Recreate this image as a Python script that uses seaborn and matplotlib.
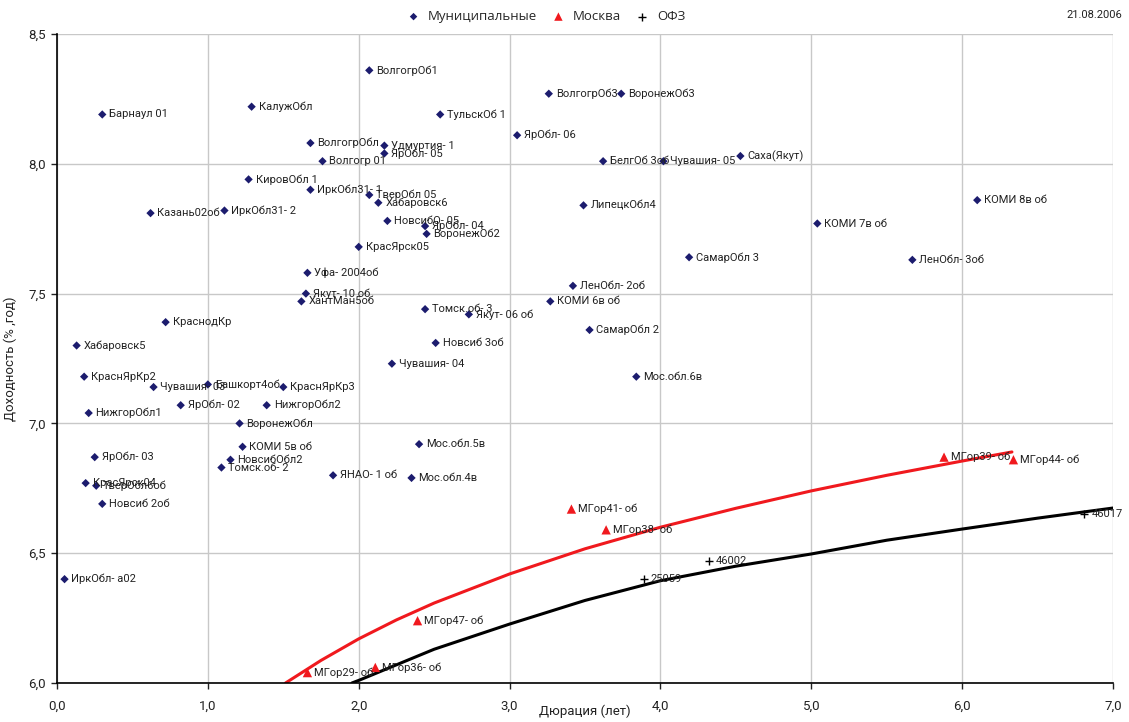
import matplotlib
matplotlib.use("Agg")
import matplotlib.pyplot as plt
import seaborn as sns
import pandas as pd
from matplotlib.ticker import FuncFormatter, MultipleLocator

# ---------------- data ----------------
muni_names = ["Барнаул 01", "КалужОбл", "ВолгогрОб1", "ВолгогрОбл", "Волгогр 01", "Удмуртия- 1",
              "ЯрОбл- 05", "ТульскОб 1", "ЯрОбл- 06", "ВолгогрОб3", "ВоронежОб3", "БелгОб 3об",
              "Чувашия- 05", "Саха(Якут)", "ЛипецкОбл4", "КОМИ 7в об", "КОМИ 8в об", "ЛенОбл- 3об",
              "СамарОбл 3", "ЛенОбл- 2об", "КОМИ 6в об", "СамарОбл 2", "Мос.обл.6в", "КировОбл 1",
              "ИркОбл31- 1", "ИркОбл31- 2", "Казань02об", "ТверОбл 05", "Хабаровск6", "НовсибО- 05",
              "ЯрОбл- 04", "ВоронежОб2", "КрасЯрск05", "Уфа- 2004об", "Якут- 10 об", "ХантМан5об",
              "Томск.об- 3", "Якут- 06 об", "Новсиб 3об", "Чувашия- 04", "КраснодКр", "Хабаровск5",
              "КраснЯрКр2", "Чувашия- 03", "Башкорт4об", "КраснЯрКр3", "ЯрОбл- 02", "НижгорОбл2",
              "НижгорОбл1", "ВоронежОбл", "КОМИ 5в об", "НовсибОбл2", "Томск.об- 2", "ЯНАО- 1 об",
              "Мос.обл.5в", "Мос.обл.4в", "ЯрОбл- 03", "КрасЯрск04", "ТверОбл6об", "Новсиб 2об",
              "ИркОбл- а02"]
muni_dur = [0.30, 1.29, 2.07, 1.68, 1.76, 2.17,
            2.17, 2.54, 3.05, 3.26, 3.74, 3.62,
            4.02, 4.53, 3.49, 5.04, 6.10, 5.67,
            4.19, 3.42, 3.27, 3.53, 3.84, 1.27,
            1.68, 1.11, 0.62, 2.07, 2.13, 2.19,
            2.44, 2.45, 2.00, 1.66, 1.65, 1.62,
            2.44, 2.73, 2.51, 2.22, 0.72, 0.13,
            0.18, 0.64, 1.00, 1.50, 0.82, 1.39,
            0.21, 1.21, 1.23, 1.15, 1.09, 1.83,
            2.40, 2.35, 0.25, 0.19, 0.26, 0.30,
            0.05]
muni_yld = [8.19, 8.22, 8.36, 8.08, 8.01, 8.07,
            8.04, 8.19, 8.11, 8.27, 8.27, 8.01,
            8.01, 8.03, 7.84, 7.77, 7.86, 7.63,
            7.64, 7.53, 7.47, 7.36, 7.18, 7.94,
            7.90, 7.82, 7.81, 7.88, 7.85, 7.78,
            7.76, 7.73, 7.68, 7.58, 7.50, 7.47,
            7.44, 7.42, 7.31, 7.23, 7.39, 7.30,
            7.18, 7.14, 7.15, 7.14, 7.07, 7.07,
            7.04, 7.00, 6.91, 6.86, 6.83, 6.80,
            6.92, 6.79, 6.87, 6.77, 6.76, 6.69,
            6.40]

msk_names = ["МГор29- об", "МГор36- об", "МГор47- об", "МГор41- об", "МГор38- об", "МГор39- об", "МГор44- об"]
msk_dur = [1.66, 2.11, 2.39, 3.41, 3.64, 5.88, 6.34]
msk_yld = [6.04, 6.06, 6.24, 6.67, 6.59, 6.87, 6.86]

ofz_names = ["25059", "46002", "46017"]
ofz_dur = [3.89, 4.32, 6.81]
ofz_yld = [6.40, 6.47, 6.65]

# trend curves
msk_trend_x = [1.515, 1.75, 2.0, 2.25, 2.5, 3.0, 3.5, 4.0, 4.5, 5.0, 5.5, 6.0, 6.33]
msk_trend_y = [6.00, 6.087, 6.17, 6.243, 6.308, 6.42, 6.517, 6.60, 6.673, 6.74, 6.80, 6.855, 6.89]
ofz_trend_x = [1.955, 2.0, 2.25, 2.5, 3.0, 3.5, 4.0, 4.5, 5.0, 5.5, 6.0, 6.5, 7.0]
ofz_trend_y = [6.00, 6.01, 6.07, 6.13, 6.227, 6.318, 6.394, 6.45, 6.497, 6.55, 6.593, 6.635, 6.674]

legend_labels = ["Муниципальные", "Москва", "ОФЗ"]
date_text = "21.08.2006"
x_label = "Дюрация (лет)"
y_label = "Доходность (% ,год)"

# ---------------- style ----------------
sns.set_theme(style="whitegrid")
narrow = ["Liberation Sans Narrow", "Roboto", "DejaVu Sans"]
plt.rcParams["font.family"] = narrow

fig = plt.figure(figsize=(11.29, 7.22), dpi=100)
ax = fig.add_axes([57 / 1129, 1 - 683 / 722, (1113 - 57) / 1129, (683 - 34) / 722])

muni_df = pd.DataFrame({"x": muni_dur, "y": muni_yld, "name": muni_names})
msk_df = pd.DataFrame({"x": msk_dur, "y": msk_yld, "name": msk_names})
ofz_df = pd.DataFrame({"x": ofz_dur, "y": ofz_yld, "name": ofz_names})
msk_tr = pd.DataFrame({"x": msk_trend_x, "y": msk_trend_y})
ofz_tr = pd.DataFrame({"x": ofz_trend_x, "y": ofz_trend_y})

sns.lineplot(data=msk_tr, x="x", y="y", ax=ax, color="#F0191E", linewidth=2.2, sort=False, zorder=2)
sns.lineplot(data=ofz_tr, x="x", y="y", ax=ax, color="black", linewidth=2.2, sort=False, zorder=2)

sns.scatterplot(data=muni_df, x="x", y="y", ax=ax, marker="D", s=18, color="#1C1C6E",
                edgecolor="none", label=legend_labels[0], zorder=3)
sns.scatterplot(data=msk_df, x="x", y="y", ax=ax, marker="^", s=45, color="#F0191E",
                edgecolor="none", label=legend_labels[1], zorder=3)
sns.scatterplot(data=ofz_df, x="x", y="y", ax=ax, marker="+", s=40, color="black",
                linewidth=1.0, label=legend_labels[2], zorder=3)

for df in (muni_df, msk_df, ofz_df):
    for _, r in df.iterrows():
        ax.annotate(r["name"], (r["x"], r["y"]), xytext=(5, 0), textcoords="offset points",
                    va="center", ha="left", fontsize=8, color="#222222", zorder=4)

ax.set_xlim(0, 7)
ax.set_ylim(6, 8.5)
ax.xaxis.set_major_locator(MultipleLocator(1))
ax.yaxis.set_major_locator(MultipleLocator(0.5))
fmt = FuncFormatter(lambda v, p: f"{v:.1f}".replace(".", ","))
ax.xaxis.set_major_formatter(fmt)
ax.yaxis.set_major_formatter(fmt)
ax.tick_params(axis="x", labelsize=9.5, colors="#222222", length=4, width=1,
               direction="out", bottom=True, pad=8)
ax.tick_params(axis="y", labelsize=9.5, colors="#222222", length=4, width=1,
               direction="out", left=True, pad=4)
ax.grid(True, color="#C8C8C8", linewidth=1)
for s in ("top", "right"):
    ax.spines[s].set_visible(False)
for s in ("left", "bottom"):
    ax.spines[s].set_color("black")
    ax.spines[s].set_linewidth(1.2)
ax.set_xlabel(x_label, fontsize=9.5, color="#222222")
ax.set_ylabel(y_label, fontsize=9.5, color="#222222")
ax.xaxis.set_label_coords(0.5, -0.034)
ax.yaxis.set_label_coords(-0.038, 0.5)

ax.legend(loc="upper center", bbox_to_anchor=(0.46, 1.045), ncol=3, frameon=False,
          handletextpad=0.1, columnspacing=0.6, borderaxespad=0,
          prop={"family": ["Open Sans", "DejaVu Sans"], "size": 9.5}, markerscale=0.9)

fig.text(1122 / 1129, 1 - 15 / 722, date_text, ha="right", va="center", fontsize=8, color="#222222")

fig.savefig("out.png", dpi=100, facecolor="white")
